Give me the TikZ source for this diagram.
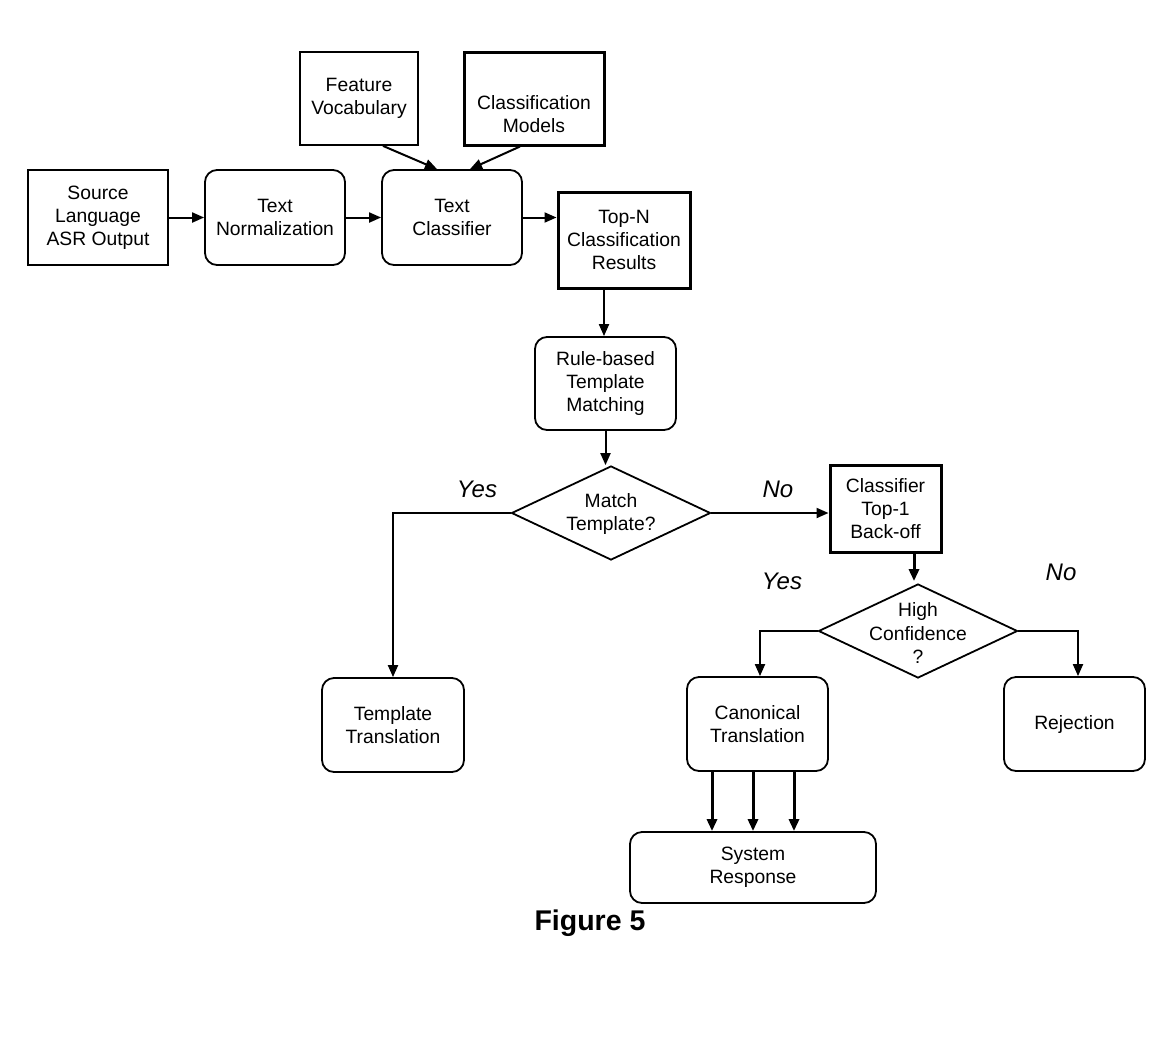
\documentclass[tikz,border=0pt]{standalone}
\usepackage{fontspec}
\setmainfont{Liberation Sans}
\usetikzlibrary{arrows.meta,shapes.geometric}
\begin{document}
\begin{tikzpicture}[x=1pt,y=-1pt,
  every node/.style={font=\fontsize{19.3}{23.2}\selectfont, align=center, inner sep=0pt},
  sbox/.style={draw, line width=1.8pt, minimum width=#1},
  rbox/.style={draw, line width=1.8pt, rounded corners=12pt},
  tbox/.style={draw, line width=3pt},
  dia/.style={draw, diamond, line width=1.8pt, minimum width=199pt, minimum height=94pt, aspect=2.1},
  arr/.style={line width=2pt, -{Triangle[length=12pt,width=10pt]}},
  tarr/.style={line width=3pt, -{Triangle[length=12pt,width=10pt]}},
  yn/.style={font=\fontsize{24}{28}\selectfont\itshape}
]
\useasboundingbox (0,0) rectangle (1170,1037);
\fill[white] (0,0) rectangle (1170,1037);

\node[sbox=140pt, minimum height=95pt] (src) at (98,217.5) {Source\\Language\\ASR Output};
\node[rbox, minimum width=140pt, minimum height=95pt] (tn) at (275,217.5) {Text\\Normalization};
\node[rbox, minimum width=140pt, minimum height=95pt] (tc) at (452,217.5) {Text\\Classifier};
\node[sbox=118pt, minimum height=93pt] (feat) at (359,98.5) {Feature\\Vocabulary};
\node[tbox, minimum width=140pt, minimum height=93pt] (models) at (534,98.5) {};
\node (modelst) at (534,114) {Classification\\Models};
\node[tbox, minimum width=132pt, minimum height=96pt] (topn) at (624,240) {Top-N\\Classification\\Results};
\node[rbox, minimum width=141pt, minimum height=93pt] (rule) at (605.5,383.5) {Rule-based\\Template\\Matching};
\node[dia] (match) at (611,513) {};
\node (matcht) at (611,514) {Match\\Template?};
\node[tbox, minimum width=111pt, minimum height=87pt] (top1) at (885.5,508.5) {Classifier\\Top-1\\Back-off};
\node[dia] (high) at (918,631) {};
\node (hight) at (918,633) {High\\Confidence\\?};
\node[rbox, minimum width=142pt, minimum height=94pt] (tt) at (393,725) {Template\\Translation};
\node[rbox, minimum width=141pt, minimum height=94pt] (ct) at (757.5,724) {Canonical\\Translation};
\node[rbox, minimum width=141pt, minimum height=94pt] (rej) at (1074.5,724) {Rejection};
\node[rbox, minimum width=246pt, minimum height=71pt] (sr) at (753,867.5) {System\\Response};
\node[font=\fontsize{28.5}{32}\selectfont\bfseries] (fig) at (590,923) {Figure 5};

\node[yn] (yes1) at (477,489) {Yes};
\node[yn] (no1) at (778,489) {No};
\node[yn] (yes2) at (782,581) {Yes};
\node[yn] (no2) at (1061,572) {No};

\draw[arr] (src.east) -- (tn.west);
\draw[arr] (tn.east) -- (tc.west);
\draw[arr] (tc.east) -- (tc.east -| topn.west);
\draw[arr] ([xshift=24pt]feat.south) -- ([xshift=-15pt]tc.north);
\draw[arr] ([xshift=-14pt]models.south) -- ([xshift=18pt]tc.north);
\draw[arr] ([xshift=-20pt]topn.south) -- ([xshift=-1.5pt]rule.north);
\draw[arr] (rule.south) -- (rule.south |- match.north);
\draw[arr] (match.west) -| (tt.north);
\draw[arr] (match.east) -- (match.east -| top1.west);
\draw[tarr] ([xshift=28.5pt]top1.south) -- ([xshift=-4pt,yshift=2pt]high.north);
\draw[arr] (high.west) -| ([xshift=2.5pt]ct.north);
\draw[arr] (high.east) -| ([xshift=3.5pt]rej.north);
\draw[tarr] ([xshift=-45.5pt]ct.south) -- ([xshift=-41pt]sr.north);
\draw[tarr] ([xshift=-4.5pt]ct.south) -- (sr.north);
\draw[tarr] ([xshift=36.5pt]ct.south) -- ([xshift=41pt]sr.north);
\end{tikzpicture}
\end{document}
